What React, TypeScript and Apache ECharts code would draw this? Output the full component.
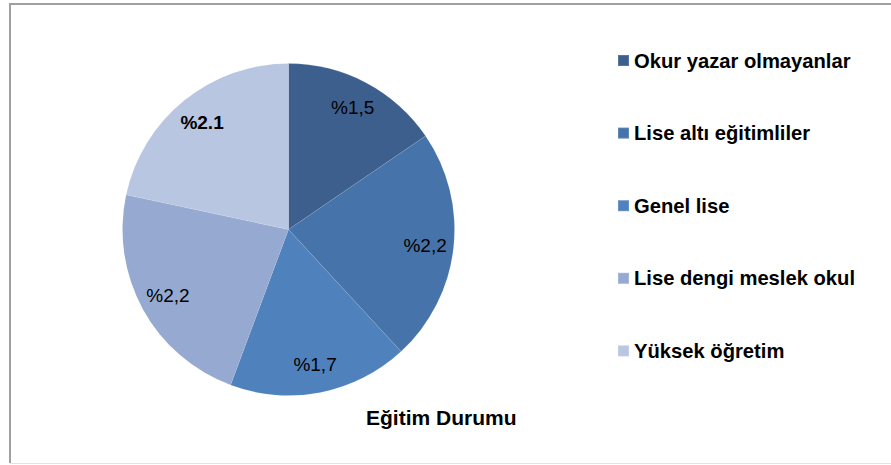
import React, { useEffect, useRef } from "react";
import * as echarts from "echarts";

const categories = [
  "Okur yazar olmayanlar",
  "Lise altı eğitimliler",
  "Genel lise",
  "Lise dengi meslek okul",
  "Yüksek öğretim",
];
const values = [1.5, 2.2, 1.7, 2.2, 2.1];
const valueLabels = ["%1,5", "%2,2", "%1,7", "%2,2", "%2.1"];
const sliceColors = ["#3C5F8D", "#4673A9", "#4F81BD", "#95A9D1", "#B9C6E1"];
const chartTitle = "Eğitim Durumu";

const FONT = "'Liberation Sans', Arial, sans-serif";

export default function App() {
  const ref = useRef<HTMLDivElement>(null);
  useEffect(() => {
    if (!ref.current) return;
    const chart = echarts.init(ref.current, null, { renderer: "svg" });
    const R = 166;
    const center = [288.5, 229.5];
    chart.setOption({
      animation: false,
      backgroundColor: "#ffffff",
      color: sliceColors,
      title: {
        text: chartTitle,
        left: 366,
        top: 407,
        padding: 0,
        textStyle: { fontFamily: FONT, fontSize: 21, fontWeight: "bold", color: "#000" },
      },
      legend: {
        orient: "vertical",
        left: 617,
        top: 50.5,
        padding: 0,
        itemWidth: 11,
        itemHeight: 11,
        itemGap: 52.6,
        icon: "rect",
        data: categories,
        selectedMode: false,
        textStyle: {
          fontFamily: FONT,
          fontSize: 20.2,
          lineHeight: 20,
          fontWeight: "bold",
          color: "#000",
        },
      },
      graphic: [
        { type: "line", shape: { x1: 9, y1: 4, x2: 891, y2: 4 }, style: { stroke: "#a0a0a0", lineWidth: 2 } },
        { type: "line", shape: { x1: 10, y1: 3, x2: 10, y2: 463 }, style: { stroke: "#a0a0a0", lineWidth: 2 } },
        { type: "line", shape: { x1: 10, y1: 463.5, x2: 891, y2: 463.5 }, style: { stroke: "#e2e2e2", lineWidth: 1 } },
      ],
      series: [
        {
          type: "pie",
          center,
          radius: [0, R],
          startAngle: 90,
          clockwise: true,
          silent: true,
          label: { show: false },
          labelLine: { show: false },
          itemStyle: { borderColor: "rgba(255,255,255,0.15)", borderWidth: 0.5 },
          data: categories.map((c, i) => ({ name: c, value: values[i] })),
        },
        {
          type: "pie",
          center,
          radius: [R * 0.62, R],
          startAngle: 90,
          clockwise: true,
          silent: true,
          avoidLabelOverlap: false,
          itemStyle: { color: "rgba(0,0,0,0)" },
          labelLine: { show: false },
          label: {
            show: true,
            position: "inside",
            fontFamily: FONT,
            fontSize: 19,
            color: "#000",
            formatter: (p: any) => valueLabels[p.dataIndex],
          },
          data: categories.map((c, i) => ({
            name: c,
            value: values[i],
            label: i === 4 ? { fontWeight: "bold" } : undefined,
          })),
        },
      ],
    });
    return () => chart.dispose();
  }, []);
  return (
    <div
      ref={ref}
      style={{ position: "fixed", left: 0, top: 0, width: 891, height: 465 }}
    />
  );
}
